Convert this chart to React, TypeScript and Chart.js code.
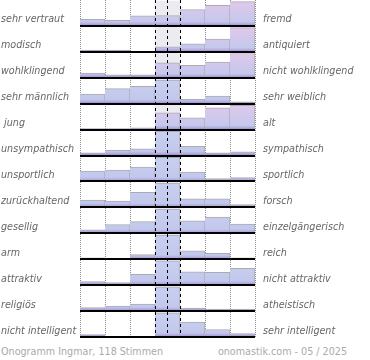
import React, { useEffect, useRef } from "react";
import { Chart, registerables } from "chart.js";

Chart.register(...registerables);

// ---- data ----
const leftLabels = [
  "sehr vertraut",
  "modisch",
  "wohlklingend",
  "sehr männlich",
  " jung",
  "unsympathisch",
  "unsportlich",
  "zurückhaltend",
  "gesellig",
  "arm",
  "attraktiv",
  "religiös",
  "nicht intelligent",
];
const rightLabels = [
  "fremd",
  "antiquiert",
  "nicht wohlklingend",
  "sehr weiblich",
  "alt",
  "sympathisch",
  "sportlich",
  "forsch",
  "einzelgängerisch",
  "reich",
  "nicht attraktiv",
  "atheistisch",
  "sehr intelligent",
];
const bins = ["1", "2", "3", "4", "5", "6", "7"];

// relative bar heights per row (100 = full row)
const rowVertraut = [27, 23, 42, 43, 67, 85, 100];
const rowModisch = [7, 7, 0, 21, 33, 53, 100];
const rowWohlklingend = [19, 12, 12, 62, 51, 65, 100];
const rowMaennlich = [40, 62, 72, 97, 18, 31, 8];
const rowJung = [4, 4, 7, 69, 49, 90, 100];
const rowSympathisch = [11, 21, 28, 100, 38, 11, 15];
const rowSportlich = [43, 47, 59, 100, 39, 12, 16];
const rowForsch = [30, 26, 62, 100, 35, 35, 12];
const rowGesellig = [14, 36, 48, 100, 51, 67, 38];
const rowArm = [6, 0, 19, 100, 35, 24, 6];
const rowAttraktiv = [15, 11, 45, 100, 55, 53, 69];
const rowReligioes = [14, 21, 29, 100, 12, 8, 8];
const rowIntelligent = [10, 0, 0, 100, 62, 31, 14];

const rows = [
  rowVertraut,
  rowModisch,
  rowWohlklingend,
  rowMaennlich,
  rowJung,
  rowSympathisch,
  rowSportlich,
  rowForsch,
  rowGesellig,
  rowArm,
  rowAttraktiv,
  rowReligioes,
  rowIntelligent,
];
const warmRows = [0, 1, 2, 4];
const neutralBand = [null, null, null, [0, 13], null, null, null];

const footerLeft = "Onogramm Ingmar, 118 Stimmen";
const footerRight = "onomastik.com - 05 / 2025";

// ---- styling ----
const ROW_FILL = 0.935;
const labelFont = { family: "'DejaVu Sans', sans-serif", size: 9.6, style: "italic" as const };

function rowGradient(chart: any, r: number) {
  const y = chart.scales && chart.scales.y;
  if (!y || !chart.chartArea) return "rgb(194,202,236)";
  const top = y.getPixelForValue(r);
  const bot = y.getPixelForValue(r + 1);
  const g = chart.ctx.createLinearGradient(0, top, 0, bot);
  if (warmRows.includes(r)) {
    g.addColorStop(0, "rgb(226,200,234)");
    g.addColorStop(0.45, "rgb(210,200,236)");
    g.addColorStop(0.84, "rgb(196,200,236)");
    g.addColorStop(0.93, "rgb(178,170,222)");
    g.addColorStop(1, "rgb(148,128,200)");
  } else {
    g.addColorStop(0, "rgb(200,208,240)");
    g.addColorStop(0.84, "rgb(194,200,236)");
    g.addColorStop(0.93, "rgb(178,170,222)");
    g.addColorStop(1, "rgb(148,128,200)");
  }
  return g;
}

function noPad(s: any, width: number) {
  s.width = width;
  s.paddingTop = 0;
  s.paddingBottom = 0;
}

function flatX(s: any) {
  s.height = 0;
  s.paddingLeft = 0;
  s.paddingRight = 0;
}

export default function App() {
  const canvasRef = useRef<HTMLCanvasElement | null>(null);

  useEffect(() => {
    if (!canvasRef.current) return;
    const rowSets = rows.map((vals, r) => ({
      type: "bar" as const,
      data: vals.map((v) => [r + 1 - (v / 100) * ROW_FILL, r + 1]),
      xAxisID: "x",
      yAxisID: "y",
      grouped: false,
      barPercentage: 1,
      categoryPercentage: 1,
      backgroundColor: (ctx: any) => rowGradient(ctx.chart, r),
      borderColor: "#ababb2",
      borderWidth: (ctx: any) =>
        vals[ctx.dataIndex] > 0 ? { top: 1, right: 1, left: 0, bottom: 0 } : 0,
      borderSkipped: false,
      order: 1,
    }));

    const chart = new Chart(canvasRef.current, {
      type: "bar",
      data: {
        labels: bins,
        datasets: [
          ...rowSets,
          {
            type: "bar",
            data: neutralBand as any,
            xAxisID: "x",
            yAxisID: "y",
            grouped: false,
            barPercentage: 1,
            categoryPercentage: 1,
            backgroundColor: "rgb(236,236,240)",
            borderWidth: 0,
            order: 10,
          } as any,
        ],
      },
      options: {
        animation: false,
        responsive: false,
        devicePixelRatio: 1,
        layout: { padding: { left: 1, top: 0, right: 0, bottom: 3 } },
        plugins: { legend: { display: false }, tooltip: { enabled: false } },
        scales: {
          x: {
            type: "category",
            offset: true,
            ticks: { display: false },
            grid: {
              offset: true,
              drawTicks: false,
              lineWidth: 1,
              color: (c: any) => (c.index === 3 || c.index === 4 ? "rgba(0,0,0,0)" : "#8c8c8c"),
            },
            border: { display: false, dash: [1, 1] },
            afterFit: flatX,
          },
          xd: {
            type: "linear",
            position: "bottom",
            min: 0,
            max: 7,
            afterBuildTicks: (s: any) => {
              s.ticks = [{ value: 3 }, { value: 4 }];
            },
            ticks: { display: false },
            grid: { drawTicks: false, color: "#000", lineWidth: 1, z: 1 },
            border: { display: false, dash: [3, 3] },
            afterFit: flatX,
          },
          y: {
            type: "linear",
            position: "left",
            min: 0,
            max: 13,
            reverse: true,
            ticks: { display: false, stepSize: 1 },
            grid: {
              drawTicks: false,
              lineWidth: 2,
              z: 1,
              color: (c: any) => (c.tick && c.tick.value > 0 ? "#000" : "rgba(0,0,0,0)"),
            },
            border: { display: false },
            afterFit: (s: any) => noPad(s, 0),
          },
          yl: {
            type: "category",
            position: "left",
            labels: leftLabels,
            offset: true,
            grid: { display: false, drawTicks: false },
            border: { display: false },
            ticks: {
              crossAlign: "far",
              labelOffset: 7,
              autoSkip: false,
              color: "#666",
              font: labelFont,
              padding: 0,
            },
            afterFit: (s: any) => noPad(s, 79),
          },
          yr: {
            type: "category",
            position: "right",
            labels: rightLabels,
            offset: true,
            grid: { display: false, drawTicks: false },
            border: { display: false },
            ticks: {
              crossAlign: "near",
              labelOffset: 7,
              autoSkip: false,
              color: "#666",
              font: labelFont,
              padding: 8,
            },
            afterFit: (s: any) => noPad(s, 115),
          },
        } as any,
      },
    });
    return () => chart.destroy();
  }, []);

  return (
    <div
      style={{
        position: "fixed",
        left: 0,
        top: 0,
        width: 370,
        height: 360,
        background: "#fff",
        fontFamily: "'DejaVu Sans', sans-serif",
      }}
    >
      <canvas ref={canvasRef} width={370} height={340} style={{ display: "block" }} />
      <div
        style={{
          position: "absolute",
          left: 1,
          top: 346,
          fontSize: 9.6,
          lineHeight: "12px",
          color: "#aaa",
          whiteSpace: "nowrap",
        }}
      >
        {footerLeft}
      </div>
      <div
        style={{
          position: "absolute",
          right: 23,
          top: 346,
          fontSize: 9.6,
          lineHeight: "12px",
          color: "#aaa",
          whiteSpace: "nowrap",
          textAlign: "right",
        }}
      >
        {footerRight}
      </div>
    </div>
  );
}
